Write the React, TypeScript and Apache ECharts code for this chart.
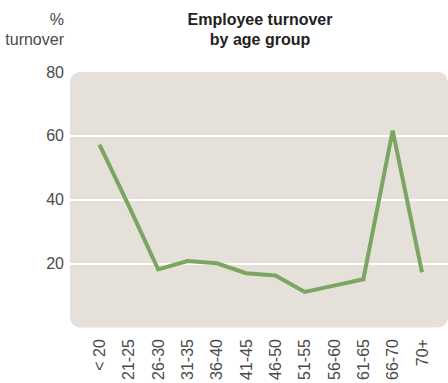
import React, { useEffect, useRef } from "react";
import * as echarts from "echarts";

const categories = ["< 20", "21-25", "26-30", "31-35", "36-40", "41-45", "46-50", "51-55", "56-60", "61-65", "66-70", "70+"];
const turnover = [57.2, 38, 18.1, 20.7, 20, 16.9, 16.2, 11, 13, 15, 61.6, 17.2];
const titleLines = ["Employee turnover", "by age group"];
const yAxisTitleLines = ["%", "turnover"];

const FONT = "'Liberation Sans', Arial, Helvetica, sans-serif";
const TEXT = "#4a4a4a";

export default function App() {
  const ref = useRef<HTMLDivElement>(null);
  useEffect(() => {
    if (!ref.current) return;
    const chart = echarts.init(ref.current, null, { renderer: "svg" });
    const plotTop = 72;
    const plotBottom = 55;
    chart.setOption({
      animation: false,
      graphic: [
        {
          type: "rect",
          z: -10,
          shape: { x: 70, y: 72, width: 378, height: 255.5, r: 10 },
          style: { fill: "#e5e1da" },
        },
        {
          type: "text",
          x: 260,
          y: 9,
          style: {
            text: titleLines.join("\n"),
            font: `bold 16px ${FONT}`,
            fill: "#222222",
            textAlign: "center",
            lineHeight: 20,
          },
        },
        {
          type: "text",
          x: 64,
          y: 9,
          style: {
            text: yAxisTitleLines.join("\n"),
            font: `16px ${FONT}`,
            fill: TEXT,
            textAlign: "right",
            lineHeight: 20,
          },
        },
      ],
      grid: [
        { left: 70, right: 0, top: 136, bottom: 119 },
        { left: 99.5, right: 26, top: plotTop, bottom: plotBottom },
      ],
      xAxis: [
        { type: "value", gridIndex: 0, show: false, min: 0, max: 1 },
        {
          type: "category",
          gridIndex: 1,
          data: categories,
          boundaryGap: false,
          axisLine: { show: false },
          axisTick: { show: false },
          axisLabel: {
            rotate: 90,
            margin: 12,
            color: TEXT,
            fontSize: 16,
            fontFamily: FONT,
            interval: 0,
          },
        },
      ],
      yAxis: [
        {
          type: "value",
          gridIndex: 0,
          min: 20,
          max: 60,
          interval: 20,
          axisLine: { show: false },
          axisTick: { show: false },
          axisLabel: { show: false },
          splitLine: { show: true, lineStyle: { color: "#ffffff", width: 2 } },
        },
        {
          type: "value",
          gridIndex: 1,
          min: 0,
          max: 80,
          interval: 20,
          axisLine: { show: false },
          axisTick: { show: false },
          splitLine: { show: false },
          axisLabel: {
            showMinLabel: false,
            margin: 35.5,
            color: TEXT,
            fontSize: 16,
            fontFamily: FONT,
          },
        },
      ],
      series: [
        {
          type: "line",
          xAxisIndex: 1,
          yAxisIndex: 1,
          data: turnover,
          showSymbol: false,
          symbol: "none",
          lineStyle: { color: "#7aa661", width: 4, join: "miter" },
        },
      ],
    });
    return () => chart.dispose();
  }, []);
  return (
    <div
      ref={ref}
      style={{ position: "absolute", left: 0, top: 0, width: 448, height: 383 }}
    />
  );
}
